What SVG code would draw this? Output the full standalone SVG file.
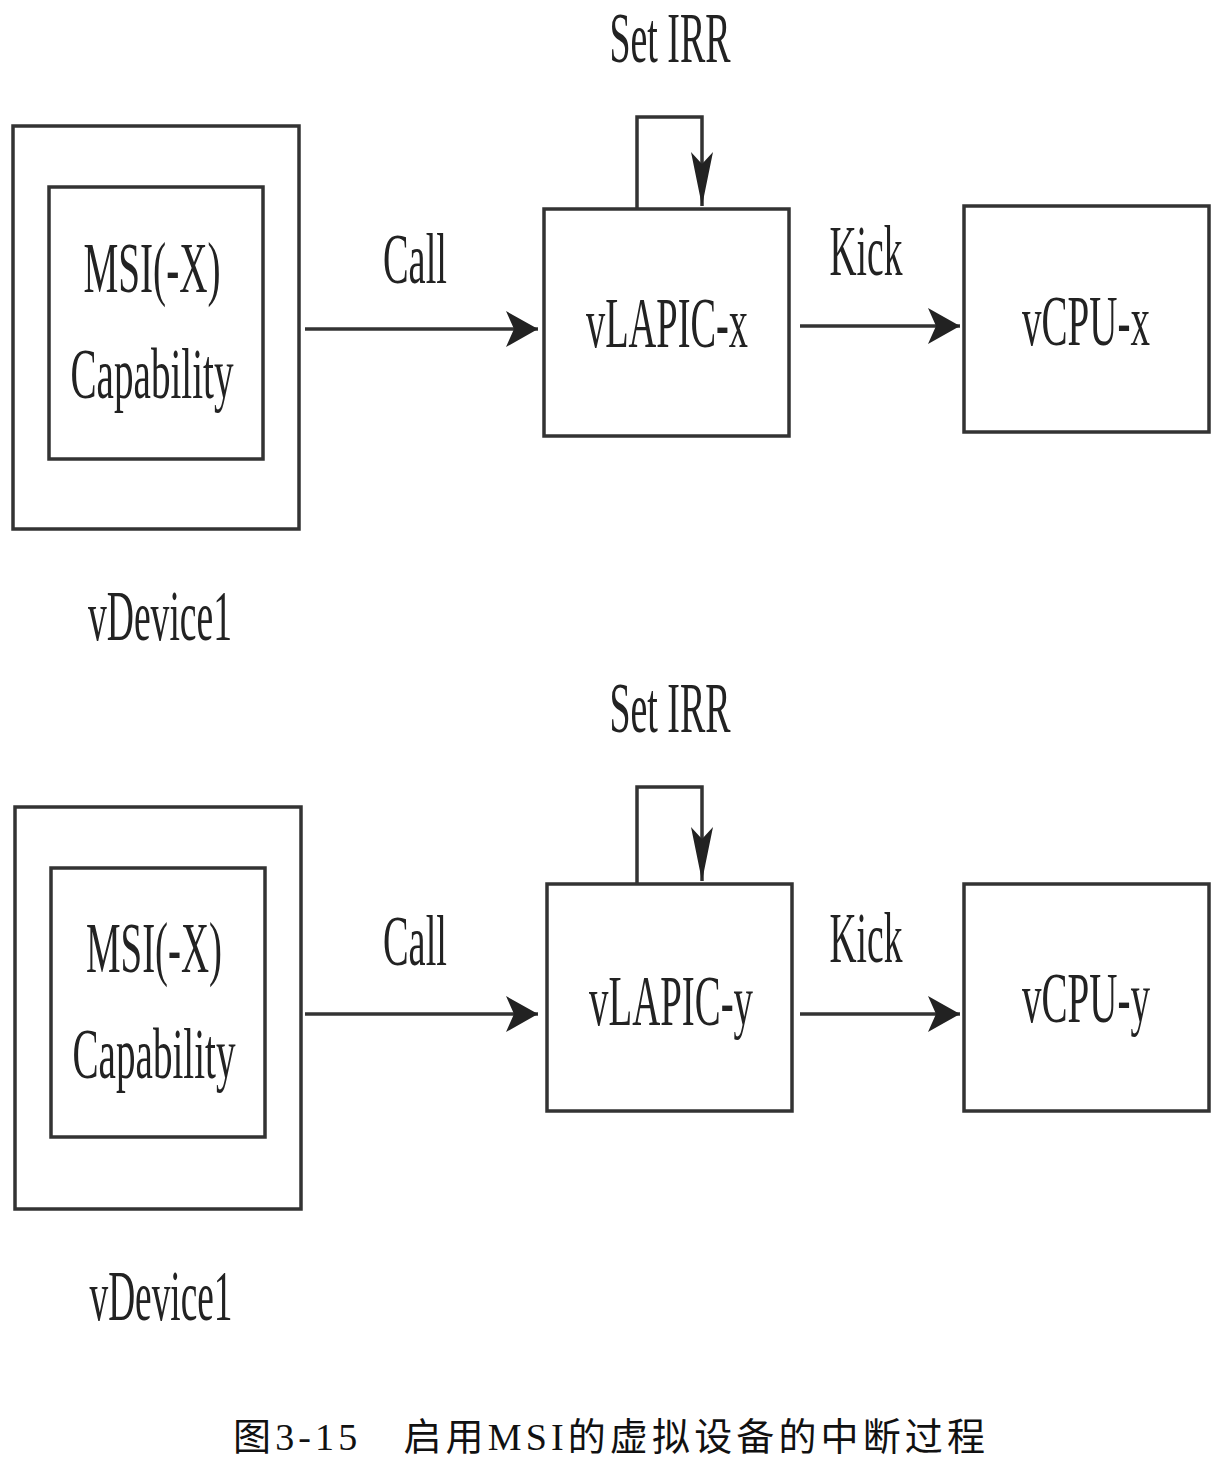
<svg xmlns="http://www.w3.org/2000/svg" width="1223" height="1469" viewBox="0 0 1223 1469">
<style>
.box{fill:none;stroke:#333;stroke-width:3.5}
.ln{fill:none;stroke:#333;stroke-width:3.5}
.t{font-family:"Liberation Serif","Times New Roman",serif;font-size:72px;fill:#222}
.cap{font-family:"Liberation Serif","Noto Sans CJK SC",serif;font-size:38px;fill:#111}
</style>
<defs>
<marker id="ah" markerUnits="userSpaceOnUse" markerWidth="34" markerHeight="40" refX="32" refY="20" orient="auto">
<path d="M0,2 L32,20 L0,38 L8,20 Z" fill="#222"/>
</marker>
<marker id="ahd" markerUnits="userSpaceOnUse" markerWidth="56" markerHeight="24" refX="54" refY="12" orient="auto">
<path d="M0,1 L54,12 L0,23 L12,12 Z" fill="#222"/>
</marker>
</defs>

<g id="top-vdevice">
<rect class="box" x="13" y="126" width="286" height="403"/>
<text class="t" x="160" y="640" text-anchor="middle" textLength="144" lengthAdjust="spacingAndGlyphs">vDevice1</text>
</g>
<g id="top-msi">
<rect class="box" x="49" y="187" width="214" height="272"/>
<text class="t" x="152" y="292" text-anchor="middle" textLength="137" lengthAdjust="spacingAndGlyphs">MSI(-X)</text>
<text class="t" x="152" y="398" text-anchor="middle" textLength="163" lengthAdjust="spacingAndGlyphs">Capability</text>
</g>
<g id="top-vlapic">
<rect class="box" x="544" y="209" width="245" height="227"/>
<text class="t" x="667" y="347" text-anchor="middle" textLength="162" lengthAdjust="spacingAndGlyphs">vLAPIC-x</text>
</g>
<g id="top-vcpu">
<rect class="box" x="964" y="206" width="245" height="226"/>
<text class="t" transform="translate(1086,345) scale(0.542,1)" x="0" y="0" text-anchor="middle">vCPU-x</text>
</g>

<g id="bottom-vdevice">
<rect class="box" x="15" y="807" width="286" height="402"/>
<text class="t" x="161" y="1320" text-anchor="middle" textLength="143" lengthAdjust="spacingAndGlyphs">vDevice1</text>
</g>
<g id="bottom-msi">
<rect class="box" x="51" y="868" width="214" height="269"/>
<text class="t" x="154" y="972" text-anchor="middle" textLength="136" lengthAdjust="spacingAndGlyphs">MSI(-X)</text>
<text class="t" x="154" y="1078" text-anchor="middle" textLength="163" lengthAdjust="spacingAndGlyphs">Capability</text>
</g>
<g id="bottom-vlapic">
<rect class="box" x="547" y="884" width="245" height="227"/>
<text class="t" x="671" y="1025" text-anchor="middle" textLength="164" lengthAdjust="spacingAndGlyphs">vLAPIC-y</text>
</g>
<g id="bottom-vcpu">
<rect class="box" x="964" y="884" width="245" height="227"/>
<text class="t" transform="translate(1086,1022) scale(0.542,1)" x="0" y="0" text-anchor="middle">vCPU-y</text>
</g>

<g id="connectors">
<line class="ln" x1="305" y1="329" x2="538" y2="329" marker-end="url(#ah)"/>
<line class="ln" x1="800" y1="326" x2="960" y2="326" marker-end="url(#ah)"/>
<path class="ln" d="M637,209 V117 H702 V206" marker-end="url(#ahd)"/>
<line class="ln" x1="305" y1="1014" x2="538" y2="1014" marker-end="url(#ah)"/>
<line class="ln" x1="800" y1="1014" x2="960" y2="1014" marker-end="url(#ah)"/>
<path class="ln" d="M637,884 V787 H702 V881" marker-end="url(#ahd)"/>
<text class="t" x="415" y="283" text-anchor="middle" textLength="64" lengthAdjust="spacingAndGlyphs">Call</text>
<text class="t" x="866" y="275" text-anchor="middle" textLength="73" lengthAdjust="spacingAndGlyphs">Kick</text>
<text class="t" x="670" y="62" text-anchor="middle" textLength="121" lengthAdjust="spacingAndGlyphs">Set IRR</text>
<text class="t" x="415" y="965" text-anchor="middle" textLength="64" lengthAdjust="spacingAndGlyphs">Call</text>
<text class="t" x="866" y="962" text-anchor="middle" textLength="73" lengthAdjust="spacingAndGlyphs">Kick</text>
<text class="t" x="670" y="732" text-anchor="middle" textLength="121" lengthAdjust="spacingAndGlyphs">Set IRR</text>
</g>

<text class="cap" x="233" y="1450" textLength="752" lengthAdjust="spacing">图3-15　启用MSI的虚拟设备的中断过程</text>
</svg>
